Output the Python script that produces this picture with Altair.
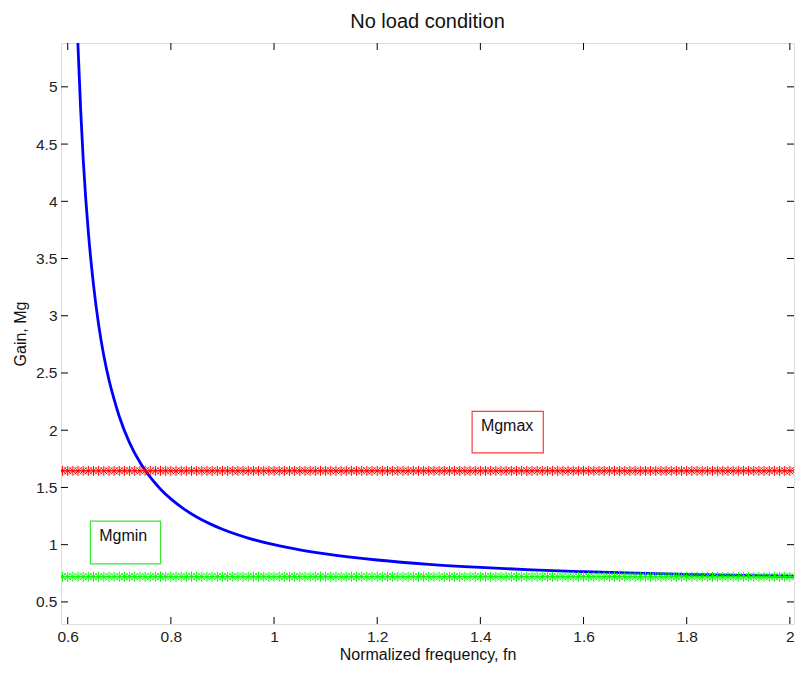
import altair as alt
import pandas as pd
import numpy as np

# Blue gain curve
fn_curve = [0.610, 0.615, 0.620, 0.625, 0.630, 0.635, 0.640, 0.650, 0.660, 0.670,
            0.680, 0.690, 0.700, 0.720, 0.740, 0.750, 0.760, 0.780, 0.800, 0.825,
            0.850, 0.875, 0.900, 0.950, 1.000, 1.050, 1.100, 1.200, 1.300, 1.400,
            1.500, 1.600, 1.700, 1.800, 1.900, 2.000, 2.010]
gain_curve = [6.97, 6.04, 5.35, 4.81, 4.37, 4.02, 3.73, 3.27, 2.92, 2.65,
              2.44, 2.27, 2.12, 1.89, 1.72, 1.65, 1.59, 1.485, 1.40, 1.313,
              1.242, 1.184, 1.135, 1.058, 1.000, 0.955, 0.919, 0.866, 0.828, 0.801,
              0.780, 0.764, 0.751, 0.740, 0.732, 0.724, 0.723]

# Horizontal marker lines
mg_max = 1.645
mg_min = 0.72
marker_fn = list(np.round(np.arange(0.58, 2.0151, 0.01), 3))

# Annotation boxes: label, x0, x1, y0, y1, text x, text y, colour
box_labels = ["Mgmax", "Mgmin"]
box_x0 = [1.384, 0.644]
box_x1 = [1.522, 0.780]
box_y0 = [1.802, 0.833]
box_y1 = [2.165, 1.205]
text_x = [1.401, 0.661]
text_y = [2.04, 1.075]
box_colors = ["#ff3a3a", "#3ae63a"]

x_ticks = [0.6, 0.8, 1.0, 1.2, 1.4, 1.6, 1.8, 2.0]
y_ticks = [0.5, 1.0, 1.5, 2.0, 2.5, 3.0, 3.5, 4.0, 4.5, 5.0]

x_domain = [0.587, 2.008]
y_domain = [0.307, 5.383]

W, H = 733, 581
FONT = "Liberation Sans"

xs = alt.Scale(domain=x_domain, nice=False, zero=False)
ys = alt.Scale(domain=y_domain, nice=False, zero=False)

x_axis = alt.Axis(values=x_ticks, format="~g", ticks=False, domain=False, grid=False,
                  labelFont=FONT, labelFontSize=15.5, labelColor="#222222", labelPadding=5,
                  title="Normalized frequency, fn", titleFont=FONT, titleFontSize=16,
                  titleFontWeight="normal", titleColor="#111111", titlePadding=2,
                  labelFlush=False)
y_axis = alt.Axis(values=y_ticks, format="~g", ticks=False, domain=False, grid=False,
                  labelFont=FONT, labelFontSize=15.5, labelColor="#222222", labelPadding=4,
                  title="Gain, Mg", titleFont=FONT, titleFontSize=16,
                  titleFontWeight="normal", titleColor="#111111", titlePadding=7,
                  labelFlush=False)

curve_df = pd.DataFrame({"fn": fn_curve, "gain": gain_curve})
red_df = pd.DataFrame({"fn": marker_fn, "gain": [mg_max] * len(marker_fn)})
green_df = pd.DataFrame({"fn": marker_fn, "gain": [mg_min] * len(marker_fn)})
box_df = pd.DataFrame({"label": box_labels, "x0": box_x0, "x1": box_x1,
                       "y0": box_y0, "y1": box_y1, "tx": text_x, "ty": text_y,
                       "color": box_colors})
xt_df = pd.DataFrame({"t": x_ticks})
yt_df = pd.DataFrame({"t": y_ticks})

asterisk = "M-1,0L1,0M0,-1L0,1M-0.7,-0.7L0.7,0.7M-0.7,0.7L0.7,-0.7"

curve = alt.Chart(curve_df).mark_line(color="#0000ff", strokeWidth=2.8, clip=True,
                                      interpolate="monotone").encode(
    x=alt.X("fn:Q", scale=xs, axis=x_axis),
    y=alt.Y("gain:Q", scale=ys, axis=y_axis),
)

red = alt.Chart(red_df).mark_point(shape=asterisk, filled=False, color="#ff0000",
                                   strokeWidth=1, size=100, clip=True, opacity=1).encode(
    x=alt.X("fn:Q", scale=xs, axis=x_axis),
    y=alt.Y("gain:Q", scale=ys, axis=y_axis),
)
green = alt.Chart(green_df).mark_point(shape=asterisk, filled=False, color="#00ff00",
                                       strokeWidth=1, size=100, clip=True, opacity=1).encode(
    x=alt.X("fn:Q", scale=xs, axis=x_axis),
    y=alt.Y("gain:Q", scale=ys, axis=y_axis),
)

boxes = alt.Chart(box_df).mark_rect(fill="white", fillOpacity=0, strokeWidth=1.2).encode(
    x=alt.X("x0:Q", scale=xs, axis=x_axis), x2="x1:Q",
    y=alt.Y("y0:Q", scale=ys, axis=y_axis), y2="y1:Q",
    stroke=alt.Color("color:N", scale=None),
)
texts = alt.Chart(box_df).mark_text(align="left", baseline="middle", font=FONT,
                                    fontSize=16, color="#111111").encode(
    x=alt.X("tx:Q", scale=xs, axis=x_axis),
    y=alt.Y("ty:Q", scale=ys, axis=y_axis),
    text="label:N",
)

TL = 7
xt_bot = alt.Chart(xt_df).mark_rule(color="black", strokeWidth=1).encode(
    x=alt.X("t:Q", scale=xs, axis=x_axis), y=alt.value(H), y2=alt.value(H - TL))
xt_top = alt.Chart(xt_df).mark_rule(color="black", strokeWidth=1).encode(
    x=alt.X("t:Q", scale=xs, axis=x_axis), y=alt.value(0), y2=alt.value(TL))
yt_left = alt.Chart(yt_df).mark_rule(color="black", strokeWidth=1).encode(
    y=alt.Y("t:Q", scale=ys, axis=y_axis), x=alt.value(0), x2=alt.value(TL))
yt_right = alt.Chart(yt_df).mark_rule(color="black", strokeWidth=1).encode(
    y=alt.Y("t:Q", scale=ys, axis=y_axis), x=alt.value(W), x2=alt.value(W - TL))

chart = alt.layer(curve, red, green, boxes, texts, xt_bot, xt_top, yt_left, yt_right).properties(
    width=W, height=H,
    autosize=alt.AutoSizeParams(type="none"),
    padding={"left": 53, "top": 35, "right": 4, "bottom": 42},
    title=alt.Title("No load condition", font=FONT, fontSize=20, fontWeight="normal",
                    color="#111111", offset=11, anchor="middle"),
).configure_view(stroke="black", strokeWidth=1).configure(background="white")

chart.save("out.html", embed_options={"renderer": "svg", "actions": False})
